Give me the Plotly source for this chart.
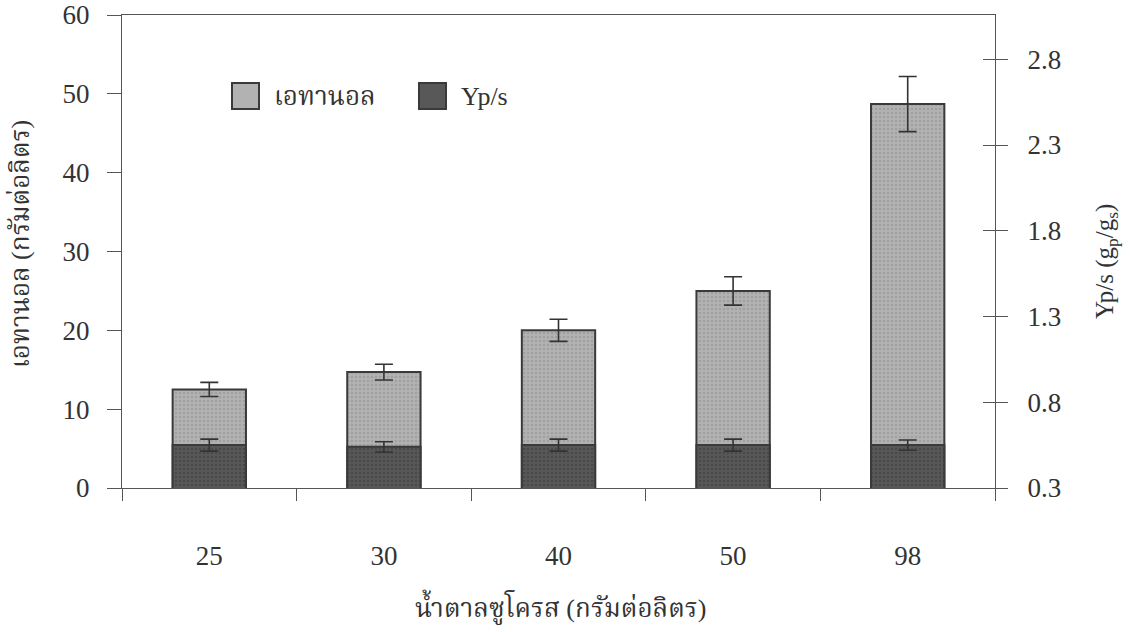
import plotly.graph_objects as go

# Sucrose concentration (g/L)
sucrose = ["25", "30", "40", "50", "98"]
# Ethanol (g/L) and its error
ethanol = [12.5, 14.7, 20.0, 25.0, 48.7]
ethanol_err = [0.9, 1.0, 1.4, 1.8, 3.5]
# Yield Yp/s (gp/gs) and its error
yps = [0.55, 0.54, 0.55, 0.55, 0.55]
yps_err = [0.035, 0.03, 0.035, 0.035, 0.03]

# Axis settings
left_range = [0, 60]
right_range = [0.3, 3.058]
right_tick0 = 0.3
right_dtick = 0.5

SERIF = "Liberation Serif, Times New Roman, Noto Serif Thai, serif"
INK = "#333333"
AXIS = "#555555"
ETH_COLOR = "#b2b2b2"
ETH_DOT = "#8e8e8e"
YPS_COLOR = "#585858"
YPS_DOT = "#3a3a3a"
OUTLINE = "#3a3a3a"
TICK_SIZE = 27

fig = go.Figure()

fig.add_trace(go.Bar(
    x=sucrose, y=ethanol, name="เอทานอล", yaxis="y",
    marker=dict(
        color=ETH_COLOR,
        line=dict(color=OUTLINE, width=2),
        pattern=dict(shape=".", fgcolor=ETH_DOT, bgcolor=ETH_COLOR,
                     size=4, solidity=0.35, fillmode="overlay"),
    ),
    error_y=dict(type="data", array=ethanol_err, visible=True,
                 color=INK, thickness=1.6, width=9),
    showlegend=False,
))

# Yp/s bars rise from zero; the part below 0.3 is clipped by the axis range
fig.add_trace(go.Bar(
    x=sucrose, y=yps, name="Yp/s", yaxis="y2",
    marker=dict(
        color=YPS_COLOR,
        line=dict(color=OUTLINE, width=2),
        pattern=dict(shape=".", fgcolor=YPS_DOT, bgcolor=YPS_COLOR,
                     size=4, solidity=0.35, fillmode="overlay"),
    ),
    error_y=dict(type="data", array=yps_err, visible=True,
                 color=INK, thickness=1.6, width=9),
    showlegend=False,
))

# invisible companion trace so the inner right-hand tick marks are drawn
fig.add_trace(go.Scatter(
    x=sucrose, y=yps, yaxis="y3", mode="markers",
    marker=dict(opacity=0), hoverinfo="skip", showlegend=False,
))

L, R, T, B = 122, 138, 15, 144
W, H = 1133, 632
pw, ph = W - L - R, H - T - B


def px_x(px):
    return (px - L) / pw


def px_y(py):
    return (H - B - py) / ph


fig.update_layout(
    width=W, height=H,
    margin=dict(l=L, r=R, t=T, b=B, autoexpand=False),
    paper_bgcolor="white", plot_bgcolor="white",
    barmode="overlay", bargap=0.58,
    font=dict(family=SERIF, size=TICK_SIZE, color=INK),
    xaxis=dict(
        type="category", categoryorder="array", categoryarray=sucrose,
        showline=True, linecolor=AXIS, linewidth=1, mirror=True,
        ticks="outside", tickson="boundaries", ticklen=12, tickcolor=AXIS,
        showgrid=False, zeroline=False,
        tickfont=dict(family=SERIF, size=TICK_SIZE, color=INK),
        ticklabelstandoff=44,
    ),
    yaxis=dict(
        range=left_range, tick0=0, dtick=10,
        showline=True, linecolor=AXIS, linewidth=1,
        ticks="outside", ticklen=14, tickcolor=AXIS,
        showgrid=False, zeroline=False,
        tickfont=dict(family=SERIF, size=TICK_SIZE, color=INK),
        ticklabelstandoff=12,
    ),
    yaxis2=dict(
        range=right_range, tick0=right_tick0, dtick=right_dtick,
        overlaying="y", side="right", anchor="x",
        showline=True, linecolor=AXIS, linewidth=1,
        ticks="outside", ticklen=12, tickcolor=AXIS,
        showgrid=False, zeroline=False,
        tickfont=dict(family=SERIF, size=TICK_SIZE, color=INK),
        ticklabelstandoff=14,
    ),
    yaxis3=dict(
        range=right_range, tick0=right_tick0, dtick=right_dtick,
        overlaying="y", side="right", anchor="x",
        showline=False, ticks="inside", ticklen=12, tickcolor=AXIS,
        showticklabels=False, showgrid=False, zeroline=False,
    ),
)

# Legend drawn as swatches with labels
legend_items = [
    ("เอทานอล", ETH_COLOR, 232, 272),
    ("Yp/s", YPS_COLOR, 419, 459),
]
for label, color, bx, tx in legend_items:
    fig.add_shape(
        type="rect", xref="paper", yref="paper",
        x0=px_x(bx), x1=px_x(bx + 27), y0=px_y(109), y1=px_y(83),
        fillcolor=color, line=dict(color=OUTLINE, width=2),
    )
    fig.add_annotation(
        xref="paper", yref="paper", x=px_x(tx), y=px_y(96),
        xanchor="left", yanchor="middle", showarrow=False,
        text=label, font=dict(family=SERIF, size=26, color=INK),
    )

# Axis titles
fig.add_annotation(
    xref="paper", yref="paper", x=px_x(560), y=px_y(607),
    xanchor="center", yanchor="middle", showarrow=False,
    text="น้ำตาลซูโครส (กรัมต่อลิตร)",
    font=dict(family=SERIF, size=26, color=INK),
)
fig.add_annotation(
    xref="paper", yref="paper", x=px_x(20), y=px_y(244),
    xanchor="center", yanchor="middle", showarrow=False, textangle=-90,
    text="เอทานอล (กรัมต่อลิตร)",
    font=dict(family=SERIF, size=26, color=INK),
)
fig.add_annotation(
    xref="paper", yref="paper", x=px_x(1106), y=px_y(262),
    xanchor="center", yanchor="middle", showarrow=False, textangle=-90,
    text="Yp/s (g<sub>p</sub>/g<sub>s</sub>)",
    font=dict(family=SERIF, size=25, color=INK),
)

fig.write_html("out.html")
